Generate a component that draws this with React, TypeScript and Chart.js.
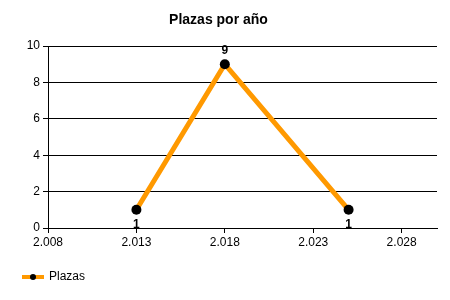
import React, { useEffect, useRef } from "react";
import { Chart, registerables } from "chart.js";

Chart.register(...registerables);

const seriesLabel = "Plazas";
const years = [2013, 2018, 2025];
const plazas = [1, 9, 1];
const xMin = 2008;
const xMax = 2030;
const xTickValues = [2008, 2013, 2018, 2023, 2028];
const yMin = 0;
const yMax = 10;
const yStep = 2;
const labelBelow = [true, false, true];

const FONT = "'Liberation Sans', Arial, sans-serif";
const ORANGE = "#FF9900";

const fmtThousands = (v: number) => String(v).replace(/(\d)(\d{3})$/, "$1.$2");

const dataLabelPlugin = {
  id: "dataLabels",
  afterDatasetsDraw(chart: any) {
    const ctx = chart.ctx;
    const meta = chart.getDatasetMeta(0);
    ctx.save();
    ctx.font = `bold 12px ${FONT}`;
    ctx.fillStyle = "#000";
    ctx.textAlign = "center";
    ctx.textBaseline = "middle";
    meta.data.forEach((pt: any, i: number) => {
      const v = chart.data.datasets[0].data[i].y;
      const dy = labelBelow[i] ? 15 : -14;
      ctx.fillText(String(v), pt.x, pt.y + dy);
    });
    ctx.restore();
  },
};

const legendPlugin = {
  id: "customLegend",
  afterDraw(chart: any) {
    const ctx = chart.ctx;
    const y = 277;
    ctx.save();
    ctx.strokeStyle = ORANGE;
    ctx.lineWidth = 4;
    ctx.beginPath();
    ctx.moveTo(22, y);
    ctx.lineTo(44, y);
    ctx.stroke();
    ctx.fillStyle = "#000";
    ctx.beginPath();
    ctx.arc(33, y, 3, 0, Math.PI * 2);
    ctx.fill();
    ctx.font = `12px ${FONT}`;
    ctx.textAlign = "left";
    ctx.textBaseline = "middle";
    ctx.fillText(chart.data.datasets[0].label, 49, y);
    ctx.restore();
  },
};

export default function App() {
  const ref = useRef<HTMLCanvasElement>(null);
  useEffect(() => {
    document.body.style.margin = "0";
    const chart = new Chart(ref.current!, {
      type: "line",
      data: {
        datasets: [
          {
            label: seriesLabel,
            data: years.map((x, i) => ({ x, y: plazas[i] })),
            borderColor: ORANGE,
            backgroundColor: "#000",
            borderWidth: 5,
            pointRadius: 5,
            pointBackgroundColor: "#000",
            pointBorderWidth: 0,
            tension: 0,
          },
        ],
      },
      plugins: [dataLabelPlugin, legendPlugin],
      options: {
        animation: false,
        responsive: false,
        layout: { padding: { left: 0, right: 13, top: 0, bottom: 0 } },
        plugins: {
          legend: { display: false },
          tooltip: { enabled: false },
          title: {
            display: true,
            text: "Plazas por año",
            color: "#000",
            font: { family: FONT, size: 14, weight: "bold" },
            padding: { top: 12, bottom: 17.2 },
          },
        },
        scales: {
          x: {
            type: "linear",
            min: xMin,
            max: xMax,
            afterBuildTicks: (scale: any) => {
              scale.ticks = xTickValues.map((v) => ({ value: v }));
            },
            afterFit: (scale: any) => {
              scale.height = 72;
            },
            ticks: {
              color: "#000",
              font: { family: FONT, size: 12 },
              padding: 2,
              maxRotation: 0,
              autoSkip: false,
              callback: (v: any) => fmtThousands(Number(v)),
            },
            grid: { drawOnChartArea: false, drawTicks: true, tickLength: 5, color: "#000" },
            border: { color: "#000", width: 1 },
          },
          y: {
            min: yMin,
            max: yMax,
            afterFit: (scale: any) => {
              scale.width = 48;
            },
            ticks: {
              stepSize: yStep,
              color: "#000",
              font: { family: FONT, size: 12 },
              padding: 3,
            },
            grid: { color: "#000", lineWidth: 1, tickLength: 5, tickColor: "#000" },
            border: { color: "#000", width: 1 },
          },
        },
      },
    } as any);
    return () => chart.destroy();
  }, []);
  return <canvas ref={ref} width={450} height={300} style={{ display: "block" }} />;
}
